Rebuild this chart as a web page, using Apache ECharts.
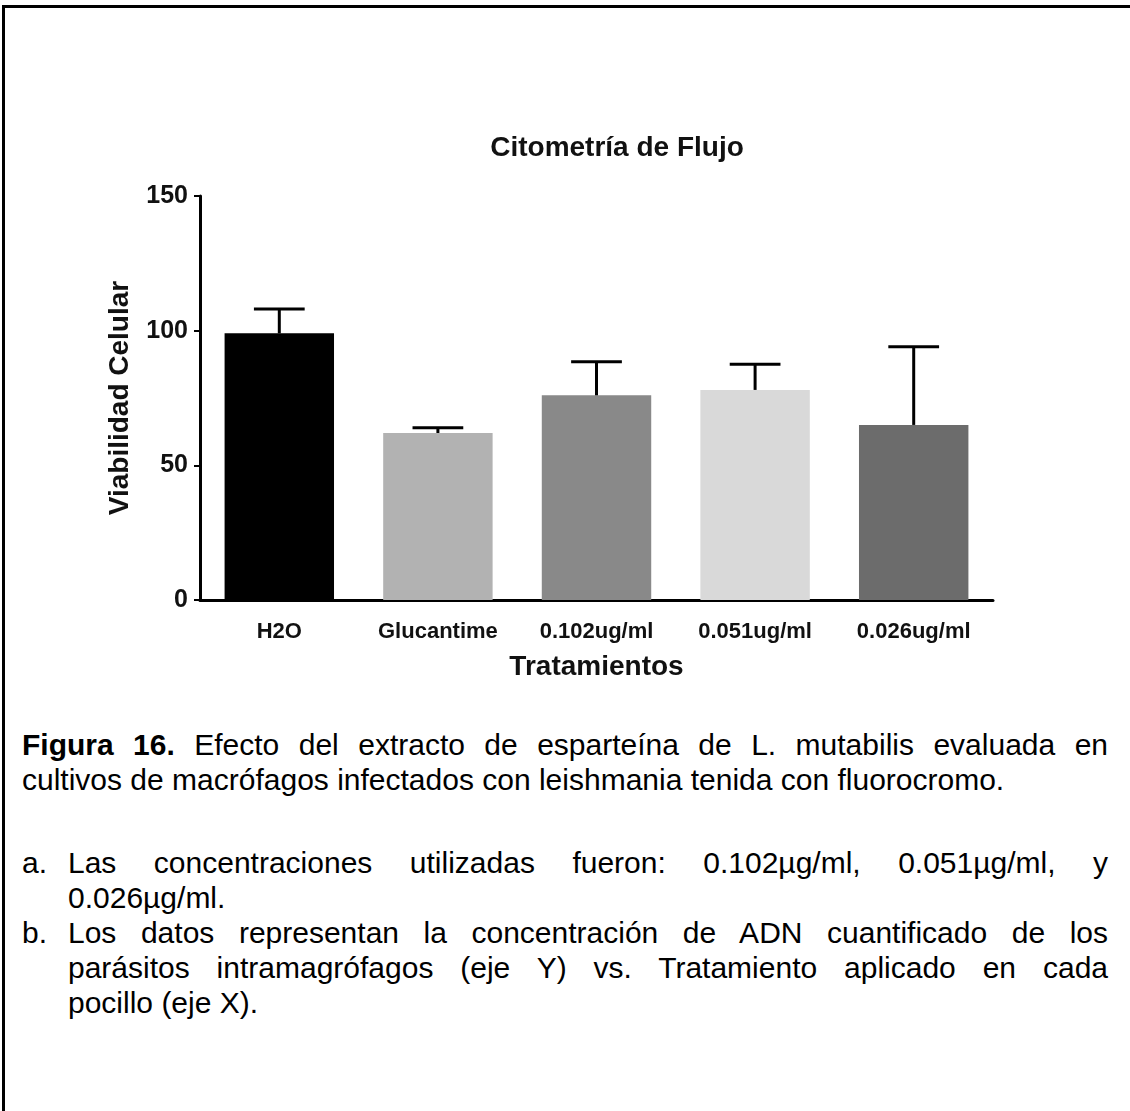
<!DOCTYPE html>
<html>
<head>
<meta charset="utf-8">
<script src="https://cdn.jsdelivr.net/npm/echarts@6/dist/echarts.min.js"></script>
<style>
  html, body { margin: 0; padding: 0; background: #fff; width: 1130px; height: 1111px; overflow: hidden; }
  #frame { position: absolute; left: 2px; top: 5px; width: 1200px; height: 1200px; border-top: 3px solid #000; border-left: 3px solid #000; }
  #chart { position: absolute; left: 0; top: 0; width: 1130px; height: 720px; }
  .cap { position: absolute; font-family: "Liberation Sans", Arial, sans-serif; font-size: 30px; color: #000; line-height: 35px; white-space: nowrap; }
  .just { text-align: justify; text-align-last: justify; white-space: normal; }
</style>
</head>
<body>
<div id="frame"></div>
<div id="chart"></div>
<div class="cap just" style="left:22px; top:727px; width:1086px;"><b>Figura 16.</b> Efecto del extracto de esparteína de L. mutabilis evaluada en</div>
<div class="cap" style="left:22px; top:762px; width:1086px;">cultivos de macrófagos infectados con leishmania tenida con fluorocromo.</div>
<div class="cap" style="left:22px; top:845px;">a.</div>
<div class="cap just" style="left:68px; top:845px; width:1040px;">Las concentraciones utilizadas fueron: 0.102µg/ml, 0.051µg/ml, y</div>
<div class="cap" style="left:68px; top:880px; width:1040px;">0.026µg/ml.</div>
<div class="cap" style="left:22px; top:915px;">b.</div>
<div class="cap just" style="left:68px; top:915px; width:1040px;">Los datos representan la concentración de ADN cuantificado de los</div>
<div class="cap just" style="left:68px; top:950px; width:1040px;">parásitos intramagrófagos (eje Y) vs. Tratamiento aplicado en cada</div>
<div class="cap" style="left:68px; top:985px; width:1040px;">pocillo (eje X).</div>
<script>
const categories = ['H2O', 'Glucantime', '0.102ug/ml', '0.051ug/ml', '0.026ug/ml'];
const means = [99, 62, 76, 78, 65];
const upperErr = [108, 64, 88.5, 87.5, 94];
const barColors = ['#000000', '#b2b2b2', '#898989', '#d9d9d9', '#6c6c6c'];
const yTicks = [0, 50, 100, 150];

const chart = echarts.init(document.getElementById('chart'));
const font = '"Liberation Sans", Arial, sans-serif';
chart.setOption({
  animation: false,
  title: {
    text: 'Citometría de Flujo',
    left: 612, top: 129, textAlign: 'center',
    textStyle: { fontFamily: font, fontSize: 28, fontWeight: 'bold', color: '#111' }
  },
  grid: { left: 200, right: 137, top: 196, height: 404 },
  xAxis: {
    type: 'category', data: categories,
    name: 'Tratamientos', nameLocation: 'middle', nameGap: 53,
    nameTextStyle: { fontFamily: font, fontSize: 28, fontWeight: 'bold', color: '#111' },
    axisLine: { lineStyle: { color: '#000', width: 3 } },
    axisTick: { alignWithLabel: true, length: 6, lineStyle: { color: '#000', width: 2 } },
    axisLabel: { fontFamily: font, fontSize: 22, fontWeight: 'bold', color: '#111', margin: 21 }
  },
  yAxis: {
    type: 'value', min: 0, max: 150, interval: 50,
    name: 'Viabilidad Celular', nameLocation: 'middle', nameGap: 66,
    nameTextStyle: { fontFamily: font, fontSize: 28, fontWeight: 'bold', color: '#111' },
    axisLine: { show: true, lineStyle: { color: '#000', width: 3 } },
    axisTick: { show: true, length: 6, lineStyle: { color: '#000', width: 2 } },
    axisLabel: { fontFamily: font, fontSize: 25, fontWeight: 'bold', color: '#111', margin: 12,
      formatter: v => yTicks.includes(v) ? String(v) : '' },
    splitLine: { show: false }
  },
  series: [
    {
      type: 'bar', barWidth: '69%',
      data: means.map((v, i) => ({ value: v, itemStyle: { color: barColors[i] } })),
      z: 2
    },
    {
      type: 'custom', z: 3,
      data: means.map((v, i) => [i, v, upperErr[i]]),
      renderItem: (params, api) => {
        const base = api.coord([api.value(0), api.value(1)]);
        const top = api.coord([api.value(0), api.value(2)]);
        const half = api.size([1, 0])[0] * 0.16;
        return {
          type: 'group',
          children: [
            { type: 'line', shape: { x1: base[0], y1: base[1], x2: top[0], y2: top[1] }, style: { stroke: '#000', lineWidth: 3 } },
            { type: 'line', shape: { x1: top[0] - half, y1: top[1], x2: top[0] + half, y2: top[1] }, style: { stroke: '#000', lineWidth: 3 } }
          ]
        };
      }
    }
  ]
});
</script>
</body>
</html>
